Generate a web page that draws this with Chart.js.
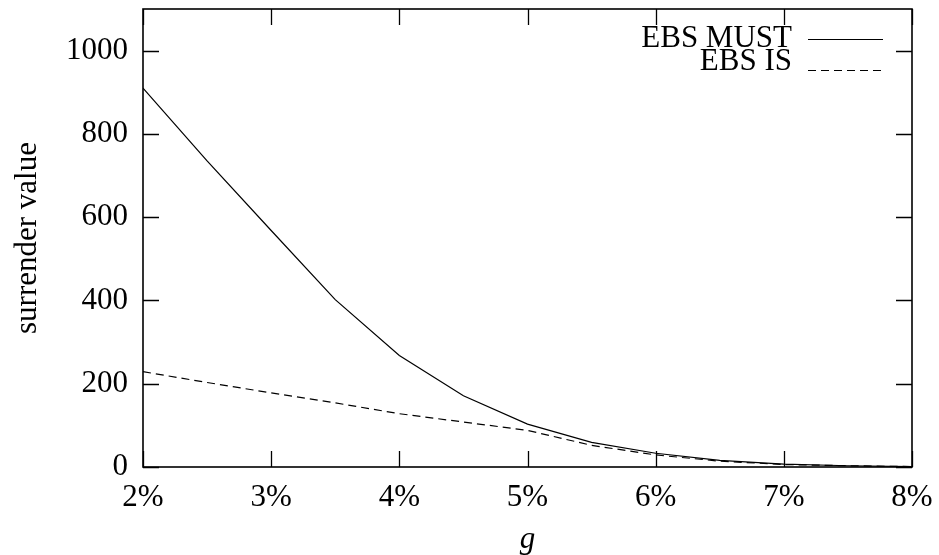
<!DOCTYPE html>
<html>
<head>
<meta charset="utf-8">
<script src="https://cdn.jsdelivr.net/npm/chart.js@4.4.0/dist/chart.umd.min.js"></script>
<style>
    html, body { margin: 0; padding: 0; background: #ffffff; }
    #box { width: 939px; height: 555px; }
</style>
</head>
<body>
<div id="box"><canvas id="surrenderChart"></canvas></div>
<script>
// Daten
const gValues = [2, 2.5, 3, 3.5, 4, 4.5, 5, 5.5, 6, 6.5, 7, 7.5, 8]
const mustValues = [910, 735, 568, 402, 268, 171, 103, 59, 33, 16, 7, 3, 1]
const isValues = [229, 203, 178, 154, 128, 108, 88, 52, 29, 14, 6, 3, 1]
const seriesNames = ["EBS MUST", "EBS IS"]
const xTicks = [2, 3, 4, 5, 6, 7, 8]
const yTicks = [0, 200, 400, 600, 800, 1000]

const fontName = "'Liberation Serif', 'DejaVu Serif', serif"

function toPoints(values) {
    let pts = []
    for (let i = 0; i < gValues.length; i++) {
        pts.push({ x: gValues[i], y: values[i] })
    }
    return pts
}

//Rahmen, Innen-Ticks und Legende wie bei gnuplot
const framePlugin = {
    id: 'frame',
    afterDraw(chart) {
        const ctx = chart.ctx
        const a = chart.chartArea
        const xs = chart.scales.x
        const ys = chart.scales.y
        const tick = 16
        ctx.save()
        ctx.strokeStyle = "#000000"
        ctx.lineWidth = 1.3
        for (let v of xTicks) {
            let px = Math.round(xs.getPixelForValue(v)) + 0.5
            ctx.beginPath()
            ctx.moveTo(px, a.bottom); ctx.lineTo(px, a.bottom - tick)
            ctx.moveTo(px, a.top); ctx.lineTo(px, a.top + tick)
            ctx.stroke()
        }
        for (let v of yTicks) {
            let py = Math.round(ys.getPixelForValue(v)) + 0.5
            ctx.beginPath()
            ctx.moveTo(a.left, py); ctx.lineTo(a.left + tick, py)
            ctx.moveTo(a.right, py); ctx.lineTo(a.right - tick, py)
            ctx.stroke()
        }
        ctx.lineWidth = 1.6
        ctx.strokeRect(a.left, a.top, a.right - a.left, a.bottom - a.top)

        //Legende
        ctx.font = "31px " + fontName
        ctx.fillStyle = "#000000"
        ctx.textAlign = "right"
        ctx.textBaseline = "alphabetic"
        const textRows = [47, 70]
        const lineRows = [39, 70]
        chart.data.datasets.forEach(function (ds, i) {
            ctx.fillText(ds.label, 792, textRows[i])
            ctx.beginPath()
            ctx.lineWidth = 1.2
            ctx.setLineDash(ds.borderDash || [])
            ctx.moveTo(808, lineRows[i] + 0.5)
            ctx.lineTo(883, lineRows[i] + 0.5)
            ctx.stroke()
            ctx.setLineDash([])
        })
        ctx.restore()
    }
}

const chartEl = document.getElementById("surrenderChart")
let lineChart = new Chart(chartEl, {
    type: "line",
    data: {
        datasets: [{
            label: seriesNames[0],
            data: toPoints(mustValues),
            borderColor: "#000000",
            borderWidth: 1.2,
            pointRadius: 0,
            tension: 0
        }, {
            label: seriesNames[1],
            data: toPoints(isValues),
            borderColor: "#000000",
            borderWidth: 1.2,
            borderDash: [8, 5],
            pointRadius: 0,
            tension: 0
        }]
    },
    plugins: [framePlugin],
    options: {
        responsive: true,
        maintainAspectRatio: false,
        animation: false,
        layout: {
            padding: { top: 9, right: 27, left: 0, bottom: 0 }
        },
        plugins: {
            legend: { display: false },
            tooltip: { enabled: false }
        },
        scales: {
            x: {
                type: 'linear',
                min: 2,
                max: 8,
                afterBuildTicks: function (scale) {
                    scale.ticks = xTicks.map(v => ({ value: v }))
                },
                afterFit: function (scale) {
                    scale.height = 88
                    scale.paddingLeft = 0
                    scale.paddingRight = 0
                },
                grid: { display: false, drawTicks: false },
                border: { display: false },
                ticks: {
                    color: "#000000",
                    padding: 12,
                    maxRotation: 0,
                    font: { family: fontName, size: 31 },
                    callback: function (v) { return v + "%" }
                },
                title: {
                    display: true,
                    text: "g",
                    color: "#000000",
                    padding: { top: 0, bottom: 0 },
                    font: { family: fontName, size: 31, style: 'italic', lineHeight: 0.95 }
                }
            },
            y: {
                min: 0,
                max: 1100,
                afterBuildTicks: function (scale) {
                    scale.ticks = yTicks.map(v => ({ value: v }))
                },
                afterFit: function (scale) {
                    scale.width = 143
                    scale.paddingTop = 0
                    scale.paddingBottom = 0
                },
                grid: { display: false, drawTicks: false },
                border: { display: false },
                ticks: {
                    color: "#000000",
                    padding: 15,
                    font: { family: fontName, size: 31 },
                    callback: function (v) { return String(v) }
                },
                title: {
                    display: true,
                    text: "surrender value",
                    color: "#000000",
                    padding: { top: 9, bottom: 0 },
                    font: { family: fontName, size: 31 }
                }
            }
        }
    }
})
</script>
</body>
</html>
